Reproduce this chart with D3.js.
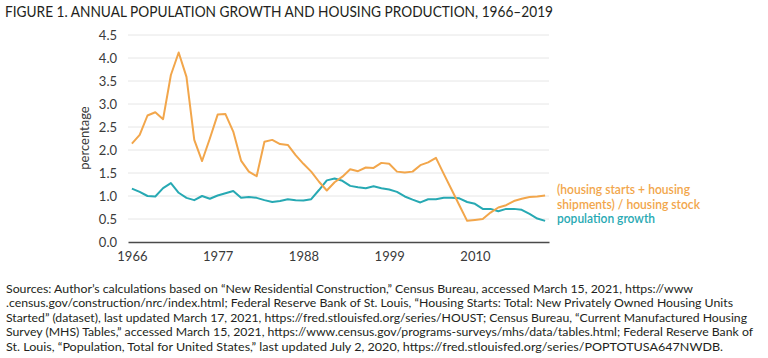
<!DOCTYPE html>
<html lang="en">
<head>
    <meta charset="UTF-8">
    <title>Annual Population Growth and Housing Production</title>
    <script src="https://d3js.org/d3.v7.min.js"></script>
    <style>
        body { margin: 0; background: #fff; font-family: Lato, "Open Sans", sans-serif; }
        svg { display: block; }
    </style>
</head>
<body>
<script>
    // Data (percent per year)
    const years = d3.range(1966, 2020);
    const housingRate = [
        2.14, 2.33, 2.75, 2.82, 2.67, 3.63, 4.12, 3.59, 2.22, 1.76,
        2.25, 2.77, 2.78, 2.40, 1.77, 1.53, 1.43, 2.18, 2.22, 2.13,
        2.11, 1.89, 1.70, 1.53, 1.31, 1.12, 1.30, 1.42, 1.58, 1.54,
        1.62, 1.61, 1.72, 1.70, 1.53, 1.51, 1.53, 1.67, 1.73, 1.83,
        1.48, 1.14, 0.80, 0.46, 0.48, 0.50, 0.64, 0.75, 0.80, 0.89,
        0.94, 0.98, 0.99, 1.01
    ];
    const populationGrowth = [
        1.16, 1.09, 1.00, 0.99, 1.17, 1.28, 1.07, 0.96, 0.91, 1.00,
        0.94, 1.01, 1.06, 1.11, 0.96, 0.98, 0.96, 0.91, 0.87, 0.89,
        0.93, 0.91, 0.90, 0.93, 1.13, 1.34, 1.38, 1.33, 1.22, 1.19,
        1.17, 1.21, 1.17, 1.14, 1.09, 0.99, 0.92, 0.86, 0.93, 0.93,
        0.96, 0.96, 0.95, 0.87, 0.83, 0.72, 0.72, 0.67, 0.72, 0.72,
        0.70, 0.61, 0.51, 0.46
    ];
    const xTicks = [1966, 1977, 1988, 1999, 2010];
    const yTicks = [0, 0.5, 1, 1.5, 2, 2.5, 3, 3.5, 4, 4.5];
    const seriesNames = ["(housing starts + housing", "shipments) / housing stock", "population growth"];

    const title = "FIGURE 1. ANNUAL POPULATION GROWTH AND HOUSING PRODUCTION, 1966\u20132019";
    const sources = [
        "Sources: Author\u2019s calculations based on \u201cNew Residential Construction,\u201d Census Bureau, accessed March 15, 2021, https://www",
        ".census.gov/construction/nrc/index.html; Federal Reserve Bank of St. Louis, \u201cHousing Starts: Total: New Privately Owned Housing Units",
        "Started\u201d (dataset), last updated March 17, 2021, https://fred.stlouisfed.org/series/HOUST; Census Bureau, \u201cCurrent Manufactured Housing",
        "Survey (MHS) Tables,\u201d accessed March 15, 2021, https://www.census.gov/programs-surveys/mhs/data/tables.html; Federal Reserve Bank of",
        "St. Louis, \u201cPopulation, Total for United States,\u201d last updated July 2, 2020, https://fred.stlouisfed.org/series/POPTOTUSA647NWDB."
    ];

    const W = 768, H = 358;
    const orange = "#f2a64b", teal = "#27a9b3";

    const svg = d3.select("body").append("svg")
        .attr("width", W)
        .attr("height", H);

    // plot area
    const x = d3.scaleLinear().domain([1965.5, 2019.5]).range([128, 549]);
    const y = d3.scaleLinear().domain([0, 4.5]).range([242, 35]);

    // title
    svg.append("text")
        .attr("x", 5)
        .attr("y", 17)
        .attr("font-size", 15.5)
        .attr("fill", "#231f20")
        .attr("textLength", 548)
        .attr("lengthAdjust", "spacingAndGlyphs")
        .text(title);

    // gridlines
    svg.append("g")
        .selectAll("line")
        .data(yTicks.filter(d => d > 0))
        .join("line")
        .attr("x1", x.range()[0])
        .attr("x2", x.range()[1])
        .attr("y1", d => y(d))
        .attr("y2", d => y(d))
        .attr("stroke", "#e6e6e6")
        .attr("stroke-width", 1);

    // y axis labels
    const yAxis = svg.append("g")
        .attr("transform", "translate(128,0)")
        .call(d3.axisLeft(y).tickValues(yTicks).tickFormat(d3.format(".1f")).tickSize(0).tickPadding(11));
    yAxis.select(".domain").remove();
    yAxis.selectAll("text")
        .attr("font-family", "Lato, sans-serif")
        .attr("font-size", 13)
        .attr("fill", "#3a3a3a");

    // x axis
    const xAxis = svg.append("g")
        .attr("transform", "translate(0,242)")
        .call(d3.axisBottom(x).tickValues(xTicks).tickFormat(d3.format("d")).tickSize(0).tickPadding(10));
    xAxis.select(".domain")
        .attr("stroke", "#4a4a4a")
        .attr("stroke-width", 1.6);
    xAxis.selectAll("text")
        .attr("font-family", "Lato, sans-serif")
        .attr("font-size", 13)
        .attr("fill", "#3a3a3a");

    // y axis title
    svg.append("text")
        .attr("transform", "translate(89,138) rotate(-90)")
        .attr("text-anchor", "middle")
        .attr("font-size", 13)
        .attr("fill", "#3a3a3a")
        .text("percentage");

    // lines
    const line = d3.line()
        .x((d, i) => x(years[i]))
        .y(d => y(d));

    svg.append("path")
        .datum(populationGrowth)
        .attr("fill", "none")
        .attr("stroke", teal)
        .attr("stroke-width", 2)
        .attr("stroke-linejoin", "round")
        .attr("d", line);

    svg.append("path")
        .datum(housingRate)
        .attr("fill", "none")
        .attr("stroke", orange)
        .attr("stroke-width", 2)
        .attr("stroke-linejoin", "round")
        .attr("d", line);

    // legend labels
    const legend = svg.append("g")
        .attr("font-size", 13)
        .attr("font-weight", 600);
    const legendLens = [133, 143, 98];
    legend.selectAll("text")
        .data(seriesNames)
        .join("text")
        .attr("x", 557)
        .attr("y", (d, i) => 194 + i * 14.5)
        .attr("fill", (d, i) => i < 2 ? orange : teal)
        .attr("textLength", (d, i) => legendLens[i])
        .attr("lengthAdjust", "spacingAndGlyphs")
        .text(d => d);

    // sources note
    const sourceLens = [687, 727, 741, 747, 717];
    svg.append("g")
        .attr("font-size", 12)
        .attr("fill", "#231f20")
        .selectAll("text")
        .data(sources)
        .join("text")
        .attr("x", 6)
        .attr("y", (d, i) => 293 + i * 14.4)
        .attr("textLength", (d, i) => sourceLens[i])
        .attr("lengthAdjust", "spacingAndGlyphs")
        .text(d => d);
</script>
</body>
</html>
